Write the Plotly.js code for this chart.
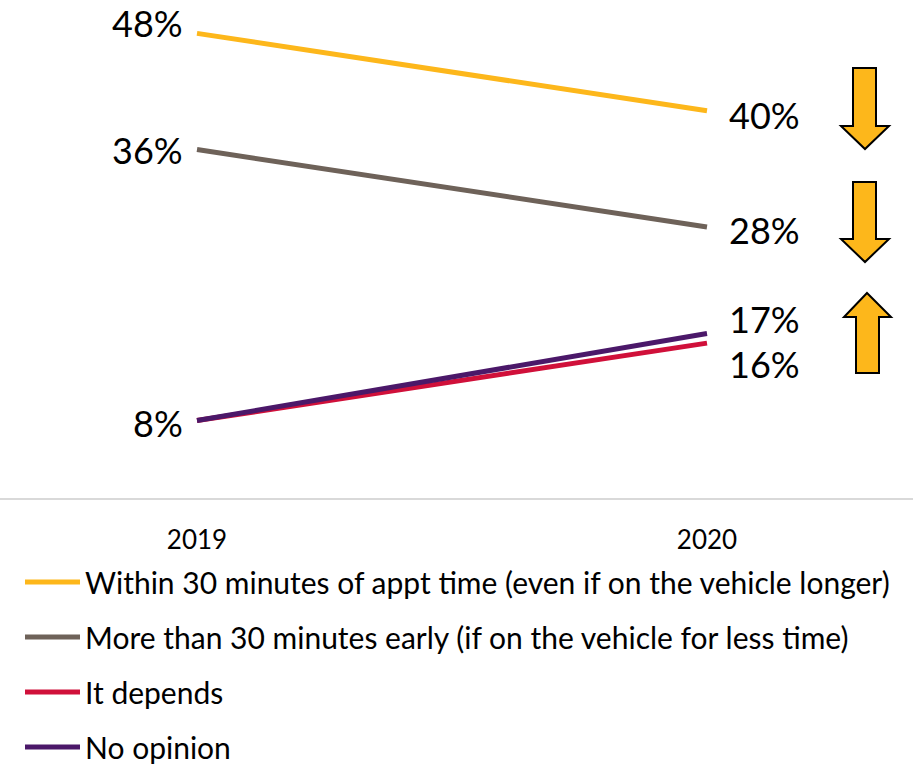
<!DOCTYPE html>
<html>
<head>
<meta charset="utf-8">
<script src="https://cdn.plot.ly/plotly-3.0.1.min.js"></script>
<style>html,body{margin:0;padding:0;background:#fff;}#chart{width:913px;height:764px;}</style>
</head>
<body>
<div id="chart"></div>
<script>
const years = ['2019', '2020'];
const seriesNames = [
  'Within 30 minutes of appt time (even if on the vehicle longer)',
  'More than 30 minutes early (if on the vehicle for less time)',
  'It depends',
  'No opinion'
];
const withinValues = [48, 40];
const earlyValues = [36, 28];
const dependsValues = [8, 16];
const noOpinionValues = [8, 17];
const seriesColors = ['#FDB71B', '#6E6259', '#D0103A', '#4B1869'];
// which points carry a label, and vertical nudge in px
const labelShow = [[true, true], [true, true], [true, true], [false, true]];
const labelYShift = [[10, -4], [0, -3], [-2, -21], [0, 14]];

const allValues = [withinValues, earlyValues, dependsValues, noOpinionValues];
const xIdx = [0, 1];

const traces = allValues.map((vals, i) => ({
  type: 'scatter',
  mode: 'lines',
  name: seriesNames[i],
  x: xIdx,
  y: vals,
  line: {color: seriesColors[i], width: 5},
  legendgroup: 'g' + i,
  hoverinfo: 'skip'
}));

const W = 913, H = 764;
const plotTop = 14, axisY = 498;
const px = X => X / W;
const py = Y => (axisY - Y) / (axisY - plotTop);

const annotations = [];
allValues.forEach((vals, i) => {
  vals.forEach((v, j) => {
    if (!labelShow[i][j]) return;
    annotations.push({
      x: xIdx[j], y: v, xref: 'x', yref: 'y',
      text: v + '%', showarrow: false,
      xanchor: j === 0 ? 'right' : 'left',
      yanchor: 'middle',
      xshift: j === 0 ? -12 : 20,
      yshift: labelYShift[i][j],
      font: {family: 'Lato, sans-serif', size: 36, color: '#000'}
    });
  });
});

function downArrow(top, wingY, tip) {
  const sl = 853, sr = 876, wl = 841, wr = 889, cx = 865;
  return `M${px(sl)},${py(top)} L${px(sr)},${py(top)} L${px(sr)},${py(wingY)} L${px(wr)},${py(wingY)} L${px(cx)},${py(tip)} L${px(wl)},${py(wingY)} L${px(sl)},${py(wingY)} Z`;
}
function upArrow(tip, wingY, bottom) {
  const sl = 856, sr = 879, wl = 844, wr = 891, cx = 867;
  return `M${px(cx)},${py(tip)} L${px(wr)},${py(wingY)} L${px(sr)},${py(wingY)} L${px(sr)},${py(bottom)} L${px(sl)},${py(bottom)} L${px(sl)},${py(wingY)} L${px(wl)},${py(wingY)} Z`;
}
const arrowStyle = {type: 'path', xref: 'paper', yref: 'paper', fillcolor: '#FDB71B', line: {color: '#000', width: 2}, layer: 'above'};
const shapes = [
  Object.assign({path: downArrow(68, 126, 149)}, arrowStyle),
  Object.assign({path: downArrow(182, 239, 262)}, arrowStyle),
  Object.assign({path: upArrow(293, 317, 373)}, arrowStyle)
];

const pxPerUnit = 510, x0px = 197;
const layout = {
  width: W, height: H,
  margin: {l: 0, r: 0, t: plotTop, b: H - axisY, pad: 0, autoexpand: false},
  paper_bgcolor: '#fff', plot_bgcolor: '#fff',
  showlegend: true,
  xaxis: {
    range: [-x0px / pxPerUnit, (W - x0px) / pxPerUnit],
    tickvals: xIdx, ticktext: years,
    showgrid: false, zeroline: false,
    showline: true, linecolor: '#D9D9D9', linewidth: 2,
    ticks: '', ticklabelstandoff: 18,
    tickfont: {family: 'Lato, sans-serif', size: 26, color: '#000'},
    fixedrange: true
  },
  yaxis: {
    range: [0, 50], visible: false, showgrid: false, zeroline: false, fixedrange: true
  },
  legend: {
    x: px(20), xanchor: 'left', y: py(556), yanchor: 'top',
    orientation: 'v', traceorder: 'grouped', tracegroupgap: 13,
    itemwidth: 55,
    font: {family: 'Lato, sans-serif', size: 30, color: '#000'},
    bgcolor: 'rgba(0,0,0,0)', itemclick: false, itemdoubleclick: false
  },
  annotations: annotations,
  shapes: shapes
};

Plotly.newPlot('chart', traces, layout, {displayModeBar: false, staticPlot: true});
</script>
</body>
</html>
